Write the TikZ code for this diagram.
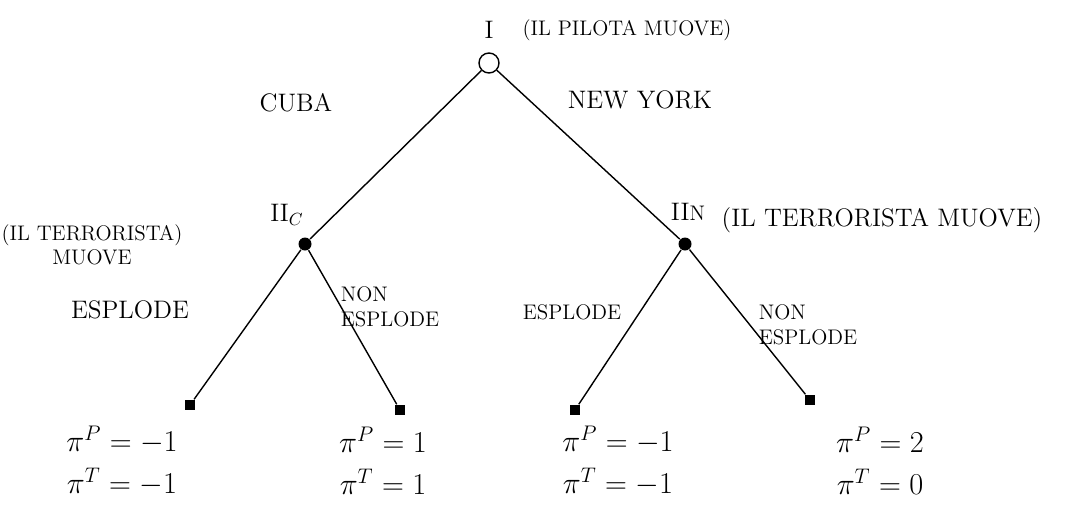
\documentclass[tikz,border=0pt]{standalone}
\usepackage{tikz}
\usetikzlibrary{positioning,arrows.meta}

\tikzset{
  openvertex/.style={circle, draw, thick, minimum size=4mm, inner sep=0pt},
  fullvertex/.style={circle, fill, minimum size=2.6mm, inner sep=0pt},
  leafvertex/.style={rectangle, fill, minimum size=2mm, inner sep=0pt},
  movelabel/.style={font=\Large},
  notelabel/.style={font=\large, align=center, inner sep=1pt}
}

\begin{document}
\begin{tikzpicture}[x=0.02cm, y=-0.02cm, thick]
  \useasboundingbox (0,0) rectangle (1068,518);

  % Decision nodes
  \node[openvertex] (I) at (489,63) {};
  \node[fullvertex] (IIc) at (305,244) {};
  \node[fullvertex] (IIn) at (685,244) {};

  % Terminal nodes
  \foreach \name/\x/\y in {la/190/405, lb/400/410, lc/575/410, ld/810/400}
    \node[leafvertex] (\name) at (\x,\y) {};

  % Branches
  \draw (I) -- (IIc);
  \draw (I) -- (IIn);
  \draw (IIc) -- (la);
  \draw (IIc) -- (lb);
  \draw (IIn) -- (lc);
  \draw (IIn) -- (ld);

  % Players
  \node[movelabel] (Ilab) at (489,30) {I};
  \node[notelabel] (Inote) at (627,30) {(IL PILOTA MUOVE)};
  \node[movelabel] (IIclab) at (287,215) {II$_{C}$};
  \node[notelabel] (IIcnote) at (92,245) {(IL TERRORISTA)\\MUOVE};
  \node[movelabel] (IInlab) at (688,212) {II{\large N}};
  \node[notelabel, font=\Large] (IInnote) at (882,220) {(IL TERRORISTA MUOVE)};

  % Actions
  \node[movelabel] (cuba) at (296,103) {CUBA};
  \node[movelabel] (ny) at (640,100) {NEW YORK};
  \node[movelabel] (escl) at (130,310) {ESPLODE};
  \node[notelabel, align=left] (necl) at (390,307) {NON\\ESPLODE};
  \node[notelabel] (esny) at (572,312) {ESPLODE};
  \node[notelabel, align=left] (neny) at (808,325) {NON\\ESPLODE};

  % Payoffs
  \foreach \name/\x/\p/\t in {a/122/-1/-1, b/383/1/1, c/618/-1/-1, d/880/2/0} {
    \node[font=\LARGE] (p\name) at (\x,440) {$\pi^P = \p$};
    \node[font=\LARGE] (t\name) at (\x,482) {$\pi^T = \t$};
  }

\end{tikzpicture}
\end{document}
